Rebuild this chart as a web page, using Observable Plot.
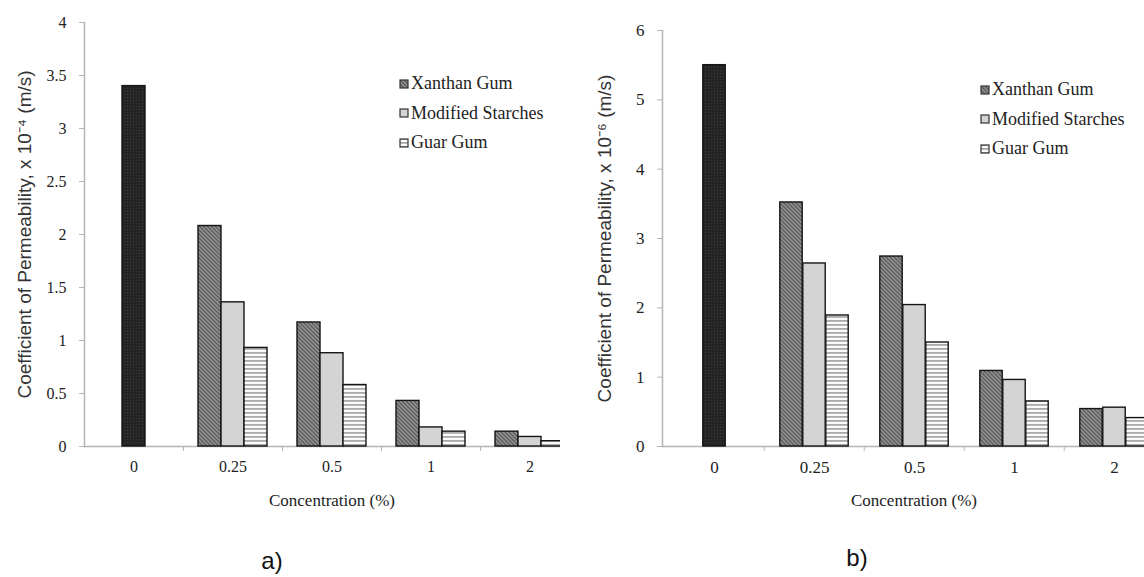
<!DOCTYPE html>
<html><head><meta charset="utf-8">
<script src="https://cdn.jsdelivr.net/npm/d3@7"></script>
<script src="https://cdn.jsdelivr.net/npm/@observablehq/plot@0.6"></script>
<style>
body{margin:0;background:#fff;width:1144px;height:577px;overflow:hidden;position:relative;}
.panel{position:absolute;top:0;overflow:hidden;height:577px;}
.panel svg{max-width:none !important;height:577px !important;}
#pa{left:0;width:560px}
#pb{left:560px;width:584px}
.legend{position:absolute;font:18px "Liberation Serif",serif;color:#222;}
.legend .row{height:29.5px;display:flex;align-items:center;white-space:nowrap;}
.legend svg{margin-right:2px;}
.tag{position:absolute;font:24px "Liberation Sans",sans-serif;color:#111;transform:translate(-50%,-50%);}
</style></head>
<body>
<svg width="0" height="0" style="position:absolute">
  <defs>
    <pattern id="pC" width="3" height="3" patternUnits="userSpaceOnUse">
      <rect width="3" height="3" fill="#242424"/><rect x="1" y="1" width="1" height="1" fill="#3c3c3c"/>
    </pattern>
    <pattern id="pX" width="4" height="4" patternUnits="userSpaceOnUse">
      <rect width="4" height="4" fill="#909090"/>
      <path d="M-1,-1L5,5M-1,3L1,5M3,-1L5,1" stroke="#555" stroke-width="1.2"/>
    </pattern>
    <pattern id="pM" width="4" height="4" patternUnits="userSpaceOnUse">
      <rect width="4" height="4" fill="#d4d4d4"/>
    </pattern>
    <pattern id="pG" width="4" height="4" patternUnits="userSpaceOnUse">
      <rect width="4" height="4" fill="#fafafa"/><rect width="4" height="1.8" fill="#a9a9a9"/>
    </pattern>
  </defs>
</svg>
<div id="pa" class="panel"></div>
<div id="pb" class="panel"></div>
<div id="la" class="legend" style="left:399px;top:69px"></div>
<div id="lb" class="legend" style="left:980px;top:75px"></div>
<div class="tag" style="left:272px;top:561px">a)</div>
<div class="tag" style="left:857px;top:558px">b)</div>
<script>
// ---- data ----
const concentrations = ["0", "0.25", "0.5", "1", "2"];
const seriesNames = ["Xanthan Gum", "Modified Starches", "Guar Gum"];
const additiveConcentrations = ["0.25", "0.5", "1", "2"];
// panel a (x 10^-4 m/s)
const controlA = 3.4;
const xanthanA = [2.08, 1.17, 0.43, 0.14];
const modifiedA = [1.36, 0.88, 0.18, 0.09];
const guarA = [0.93, 0.58, 0.14, 0.05];
const yTicksA = [0, 0.5, 1, 1.5, 2, 2.5, 3, 3.5, 4];
// panel b (x 10^-6 m/s)
const controlB = 5.5;
const xanthanB = [3.52, 2.74, 1.09, 0.54];
const modifiedB = [2.64, 2.04, 0.96, 0.56];
const guarB = [1.89, 1.50, 0.65, 0.41];
const yTicksB = [0, 1, 2, 3, 4, 5, 6];

const patternOf = {"Control": "url(#pC)", "Xanthan Gum": "url(#pX)", "Modified Starches": "url(#pM)", "Guar Gum": "url(#pG)"};

function rows(values) {
  return additiveConcentrations.map((c, i) => ({conc: c, value: values[i]}));
}

function chart({control, xanthan, modified, guar, yTicks, yMax, width, marginLeft, marginTop, barW, fontSize, label, labelOffset}) {
  const band = (width - marginLeft) / concentrations.length;
  const inset = (band - barW) / 2;
  const barOpts = (fill, dx) => ({x: "conc", y: "value", fill, stroke: "#151515", strokeWidth: 1.4, insetLeft: inset, insetRight: inset, dx});
  return Plot.plot({
    width, height: 577,
    marginLeft, marginRight: 0, marginTop, marginBottom: 131,
    style: {fontFamily: "Liberation Serif, serif", fontSize: fontSize + "px", color: "#222", background: "transparent"},
    x: {type: "band", domain: concentrations, padding: 0},
    y: {domain: [0, yMax]},
    marks: [
      Plot.ruleY([0], {stroke: "#b5b5b5", strokeWidth: 1.5}),
      Plot.frame({anchor: "left", stroke: "#b5b5b5", strokeWidth: 1.5}),
      Plot.axisY({ticks: yTicks, tickSize: 5, tickPadding: 13, stroke: "#b5b5b5", tickFormat: d => String(d),
        label: null}),
      Plot.axisX({tickSize: 0, tickPadding: 14, label: null}),
      Plot.axisX({ticks: concentrations.slice(1), tickSize: 5, tickFormat: () => "", dx: -band / 2, stroke: "#b5b5b5", label: null}),
      Plot.barY([{conc: "0", value: control}], barOpts(patternOf["Control"], 0)),
      Plot.barY(rows(xanthan), barOpts(patternOf["Xanthan Gum"], -barW)),
      Plot.barY(rows(modified), barOpts(patternOf["Modified Starches"], 0)),
      Plot.barY(rows(guar), barOpts(patternOf["Guar Gum"], barW)),
      Plot.text([label], {frameAnchor: "left", textAnchor: "middle", rotate: -90, dx: -labelOffset, fontFamily: "Liberation Sans, sans-serif", fontSize: 19, fill: "#333"}),
      Plot.text(["Concentration (%)"], {frameAnchor: "bottom", dy: 59, fontSize: 17, fill: "#222"})
    ]
  });
}

document.getElementById("pa").append(chart({
  control: controlA, xanthan: xanthanA, modified: modifiedA, guar: guarA,
  yTicks: yTicksA, yMax: 4, width: 579, marginLeft: 84, marginTop: 22, barW: 23, fontSize: 16,
  label: "Coefficient of Permeability, x 10⁻⁴ (m/s)", labelOffset: 60
}));
document.getElementById("pb").append(chart({
  control: controlB, xanthan: xanthanB, modified: modifiedB, guar: guarB,
  yTicks: yTicksB, yMax: 6, width: 605, marginLeft: 102, marginTop: 30, barW: 23, fontSize: 17,
  label: "Coefficient of Permeability, x 10⁻⁶ (m/s)", labelOffset: 58
}));

function legend(id) {
  const el = document.getElementById(id);
  for (const s of seriesNames) {
    const row = document.createElement("div");
    row.className = "row";
    row.innerHTML = `<svg width="10" height="10"><rect x="1" y="1" width="8" height="8" fill="${patternOf[s]}" stroke="#333" stroke-width="1.2"/></svg>`;
    row.append(document.createTextNode(s));
    el.append(row);
  }
}
legend("la");
legend("lb");
</script>
</body></html>
